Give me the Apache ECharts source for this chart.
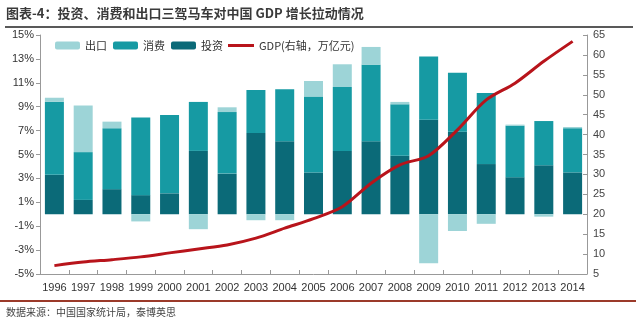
<!DOCTYPE html>
<html><head><meta charset="utf-8">
<script src="https://cdn.jsdelivr.net/npm/echarts@6/dist/echarts.min.js"></script>
<style>
html,body{margin:0;padding:0;background:#fff;}
#wrap{position:relative;width:640px;height:321px;overflow:hidden;font-family:"Noto Sans CJK SC",sans-serif;}
#title{position:absolute;left:6px;top:3px;font-size:13px;font-weight:bold;color:#3a3a3a;white-space:nowrap;}
#topline{position:absolute;left:5px;top:26px;width:628px;height:2px;background:#595959;}
#botline{position:absolute;left:0px;top:300px;width:636px;height:2px;background:#9b3a2a;}
#source{position:absolute;left:6px;top:304px;font-size:10px;color:#444;white-space:nowrap;}
#chart{position:absolute;left:0;top:0;width:640px;height:321px;}
</style></head>
<body><div id="wrap">
<div id="chart"></div>
<div id="title">图表-4：投资、消费和出口三驾马车对中国 GDP 增长拉动情况</div>
<div id="topline"></div>
<div id="botline"></div>
<div id="source">数据来源：中国国家统计局，泰博英思</div>
</div>
<script>
const years = ['1996','1997','1998','1999','2000','2001','2002','2003','2004','2005','2006','2007','2008','2009','2010','2011','2012','2013','2014'];
const investment = [3.3, 1.2, 2.1, 1.6, 1.75, 5.3, 3.4, 6.8, 6.1, 3.5, 5.3, 6.1, 4.9, 7.9, 6.9, 4.2, 3.1, 4.1, 3.5];
const consumption = [6.1, 4.0, 5.1, 6.5, 6.55, 4.1, 5.15, 3.6, 4.35, 6.35, 5.35, 6.4, 4.3, 5.3, 4.95, 5.95, 4.3, 3.7, 3.7];
const exports_ = [0.35, 3.9, 0.55, -0.6, 0, -1.25, 0.4, -0.5, -0.5, 1.3, 1.9, 1.5, 0.2, -4.1, -1.4, -0.8, 0.1, -0.2, 0.1];
const gdp = [7.1, 8.0, 8.6, 9.3, 10.3, 11.3, 12.3, 14.0, 16.5, 18.9, 21.9, 27.8, 32.4, 34.7, 41.2, 48.7, 52.9, 58.4, 63.4];
const leftTicks = [-5, -3, -1, 1, 3, 5, 7, 9, 11, 13, 15];
const barNames = ['出口', '消费', '投资'];
const lineName = 'GDP(右轴，万亿元)';

const chart = echarts.init(document.getElementById('chart'), null, {renderer: 'canvas'});
const font = 'Liberation Sans';
const legendText = {fontSize: 11, color: '#333', fontFamily: '"Noto Sans CJK SC", sans-serif'};
chart.setOption({
  animation: false,
  textStyle: {fontFamily: '"Noto Sans CJK SC", sans-serif'},
  grid: {left: 40, right: 53, top: 35, bottom: 47},
  legend: [{
    data: barNames, left: 55, top: 40, padding: 0, itemWidth: 25, itemHeight: 8, itemGap: 6,
    textStyle: legendText
  }, {
    data: [lineName], left: 228, top: 40, padding: 0, itemWidth: 26, itemHeight: 3, icon: 'rect',
    textStyle: legendText
  }],
  xAxis: {
    type: 'category', data: years, boundaryGap: true,
    axisLine: {onZero: false, lineStyle: {color: '#999'}},
    axisTick: {show: true, length: 4, inside: true, lineStyle: {color: '#999'}},
    axisLabel: {fontSize: 11, color: '#333', fontFamily: font, margin: 8, interval: 0}
  },
  yAxis: [{
    type: 'value', min: -5, max: 15,
    splitLine: {show: false},
    axisLine: {show: true, lineStyle: {color: '#999'}},
    axisTick: {show: true, length: 4, customValues: leftTicks, lineStyle: {color: '#999'}},
    axisLabel: {fontSize: 11, color: '#333', fontFamily: font, customValues: leftTicks, formatter: v => v + '%', margin: 6}
  }, {
    type: 'value', min: 5, max: 65, interval: 5, position: 'right',
    splitLine: {show: false},
    axisLine: {show: true, lineStyle: {color: '#999'}},
    axisTick: {show: true, length: 4, inside: true, lineStyle: {color: '#999'}},
    axisLabel: {fontSize: 11, color: '#444', fontFamily: font, margin: 6}
  }],
  series: [
    {name: '投资', type: 'bar', stack: 'a', data: investment, barWidth: '66%', itemStyle: {color: '#0b6a78'}},
    {name: '消费', type: 'bar', stack: 'a', data: consumption, barWidth: '66%', itemStyle: {color: '#169aa3'}},
    {name: '出口', type: 'bar', stack: 'a', data: exports_, barWidth: '66%', itemStyle: {color: '#9dd4d7'}},
    {name: lineName, type: 'line', yAxisIndex: 1, data: gdp, smooth: 0.3, symbol: 'none',
     lineStyle: {color: '#b8141b', width: 3}, itemStyle: {color: '#b8141b'}, z: 5}
  ]
});
</script>
</body></html>
